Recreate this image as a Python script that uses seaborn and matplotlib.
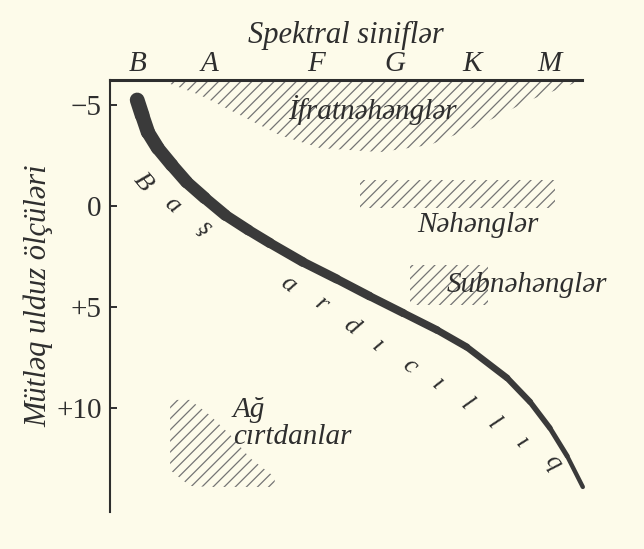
import numpy as np
import pandas as pd
import matplotlib
matplotlib.use("Agg")
import matplotlib.pyplot as plt
import seaborn as sns

# spectral classes along the top axis (B = 0, M = 5)
spec_classes = ["B", "A", "F", "G", "K", "M"]
spec_pos = [0.0, 0.87, 2.16, 3.12, 4.05, 5.0]

# absolute magnitude ticks
mag_ticks = [-5, 0, 5, 10]
mag_labels = ["\u22125", "0", "+5", "+10"]

# main sequence centre line (spectral index, magnitude) and its stroke width (pt)
ms_x = [-0.01, 0.05, 0.12, 0.24, 0.41, 0.59, 0.81, 1.06, 1.34, 1.60, 2.00,
        2.41, 2.81, 3.22, 3.63, 3.99, 4.48, 4.76, 5.00, 5.21, 5.40]
ms_y = [-5.25, -4.50, -3.66, -2.87, -2.03, -1.19, -0.40, 0.45, 1.19, 1.83, 2.77,
        3.61, 4.46, 5.30, 6.14, 6.98, 8.51, 9.70, 10.99, 12.38, 13.91]
ms_w = [10.8, 10.5, 10.1, 9.7, 9.4, 9.0, 8.6, 7.9, 7.6, 7.2, 6.8,
        6.4, 6.0, 5.7, 5.3, 5.0, 4.6, 4.2, 3.8, 3.4, 2.9]

# supergiants: lower edge of the hatched zone under the top axis
sg_x = [0.33, 0.75, 1.24, 1.72, 2.21, 2.94, 3.54, 4.15, 4.76, 5.30]
sg_y = [-6.14, -5.50, -4.50, -3.51, -2.87, -2.67, -3.02, -4.01, -5.25, -6.09]

# giants band
gi_x = [2.69, 5.06]
gi_top = [-1.3, -1.3]
gi_bot = [0.1, 0.1]

# subgiants patch
sub_x = [3.3, 4.25]
sub_top = [2.9, 2.9]
sub_bot = [4.9, 4.9]

# white dwarfs patch
wd_x = [0.39, 0.63, 0.87, 1.12, 1.36, 1.66]
wd_top = [9.60, 9.60, 10.35, 11.34, 12.48, 13.42]
wd_bot = [13.07, 13.86, 13.91, 13.91, 13.91, 13.91]

# letters of "Baş ardıcıllıq" written along the main sequence
ms_letters = ["B", "a", "ş", "a", "r", "d", "ı", "c", "ı", "l", "l", "ı", "q"]
ms_letter_x = [0.06, 0.41, 0.81, 1.82, 2.23, 2.59, 2.91, 3.30, 3.64, 3.99, 4.31, 4.66, 5.04]
ms_letter_y = [-1.18, -0.05, 1.09, 3.86, 4.85, 5.94, 6.93, 7.92, 8.81, 9.80, 10.79, 11.73, 12.72]
ms_letter_rot = [-50, -42, -40, -38, -38, -38, -40, -40, -42, -44, -46, -48, -52]

bg = "#fdfbea"
ink = "#2e2e2e"
hatch_col = "#747474"

sns.set_theme(style="white")
plt.rcParams["font.family"] = ["Liberation Serif", "DejaVu Serif"]
plt.rcParams["hatch.linewidth"] = 0.9
plt.rcParams["text.color"] = ink
plt.rcParams["xtick.color"] = ink
plt.rcParams["ytick.color"] = ink
plt.rcParams["axes.labelcolor"] = ink

fig = plt.figure(figsize=(6.44, 5.49), dpi=100, facecolor=bg)
ax = fig.add_axes([0.1708, 0.0674, 0.7329, 0.7869])
ax.set_facecolor(bg)

# hatched regions
for xs, y1, y2 in [(sg_x, sg_y, [-6.3] * len(sg_x)),
                   (gi_x, gi_top, gi_bot),
                   (sub_x, sub_top, sub_bot),
                   (wd_x, wd_top, wd_bot)]:
    ax.fill_between(xs, y1, y2, facecolor="none", edgecolor=hatch_col,
                    linewidth=0, hatch="///")

# main sequence: one short segment per pair of points so the stroke tapers
rows = []
for i in range(len(ms_x) - 1):
    for j in (i, i + 1):
        rows.append({"x": ms_x[j], "y": ms_y[j], "seg": i})
seg_df = pd.DataFrame(rows)
seg_sizes = {i: (ms_w[i] + ms_w[i + 1]) / 2 for i in range(len(ms_x) - 1)}
sns.lineplot(data=seg_df, x="x", y="y", size="seg", sizes=seg_sizes,
             estimator=None, sort=False, color="#3a3a3a", legend=False,
             solid_capstyle="round", ax=ax, clip_on=False, zorder=3)

for ch, lx, ly, rot in zip(ms_letters, ms_letter_x, ms_letter_y, ms_letter_rot):
    ax.text(lx, ly, ch, fontsize=19, fontstyle="italic", rotation=rot,
            ha="center", va="center", rotation_mode="anchor")

# region names
ax.text(2.85, -4.75, "İfratnəhənglər", fontsize=21, fontstyle="italic",
        ha="center", va="center")
ax.text(4.13, 0.94, "Nəhənglər", fontsize=21, fontstyle="italic",
        ha="center", va="center")
ax.text(3.75, 3.91, "Subnəhənglər", fontsize=21, fontstyle="italic",
        ha="left", va="center")
ax.text(1.15, 10.1, "Ağ", fontsize=21, fontstyle="italic", ha="left", va="center")
ax.text(1.15, 11.44, "cırtdanlar", fontsize=21, fontstyle="italic",
        ha="left", va="center")

# axes
ax.set_xlim(-0.34, 5.39)
ax.set_ylim(15.15, -6.24)
ax.xaxis.tick_top()
ax.xaxis.set_label_position("top")
ax.set_xticks(spec_pos)
ax.set_xticklabels(spec_classes, fontstyle="italic", fontsize=21)
ax.set_yticks(mag_ticks)
ax.set_yticklabels(mag_labels, fontsize=21)
ax.tick_params(axis="x", length=0, pad=2)
ax.tick_params(axis="y", direction="in", length=5, width=1.4, pad=6, left=True)
ax.set_xlabel("Spektral siniflər", fontstyle="italic", fontsize=22, labelpad=6)
ax.set_ylabel("Mütləq ulduz ölçüləri", fontstyle="italic", fontsize=22, labelpad=2)

for side in ["right", "bottom"]:
    ax.spines[side].set_visible(False)
ax.spines["left"].set_color(ink)
ax.spines["left"].set_linewidth(1.5)
ax.spines["top"].set_color(ink)
ax.spines["top"].set_linewidth(2.2)
ax.grid(False)

fig.savefig("out.png", dpi=100, facecolor=bg)
